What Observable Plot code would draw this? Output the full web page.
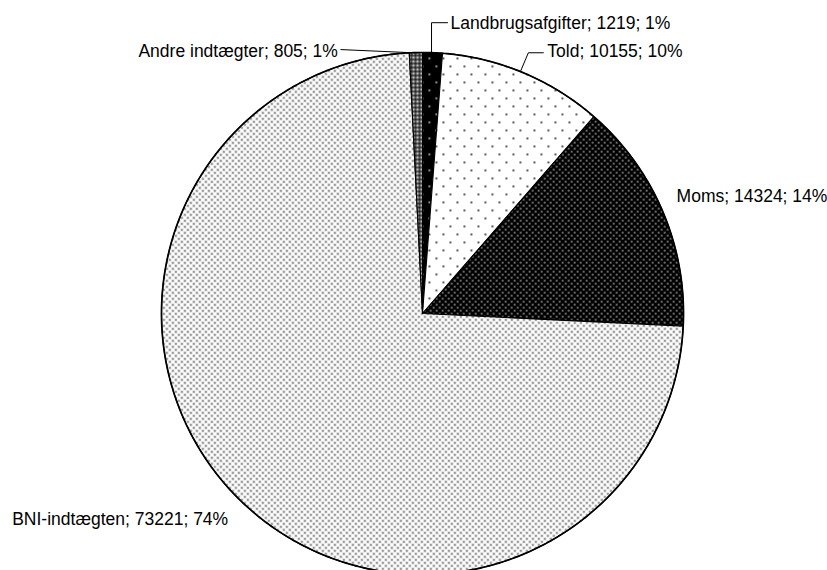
<!DOCTYPE html>
<html>
<head>
<meta charset="utf-8">
<script src="https://cdn.jsdelivr.net/npm/d3@7"></script>
<script src="https://cdn.jsdelivr.net/npm/@observablehq/plot@0.6"></script>
<style>
  html, body { margin: 0; padding: 0; background: white; }
</style>
</head>
<body>
<div id="chart"></div>
<script>
// ---- data ----
const categories = ["Landbrugsafgifter", "Told", "Moms", "BNI-indtægten", "Andre indtægter"];
const values = [1219, 10155, 14324, 73221, 805];
const percentLabels = ["1%", "10%", "14%", "74%", "1%"];

// ---- styling / layout (not data) ----
const patternIds = ["pLand", "pTold", "pMoms", "pBni", "pAndre"];
const cx = 422, cy = 313, R = 261, W = 827, H = 570;
// pixel offsets from the slice's mid-arc point
const labelLayout = [
  {leader: [[-1, 1], [-1, -30], [15, -30]], text: [18, -29.5], anchor: "start"},
  {leader: [[-3, -1], [5, -20], [20, -20]], text: [24, -21], anchor: "start"},
  {leader: null, text: [14, -15], anchor: "start"},
  {leader: null, text: [-10, 21], anchor: "end"},
  {leader: [[-7, 0], [-75, -3]], text: [-78, -1.5], anchor: "end"}
];

const total = d3.sum(values);
const slices = [];
const mids = [];
let acc = 0;
values.forEach((v, i) => {
  const a0 = acc / total * 2 * Math.PI;
  acc += v;
  const a1 = acc / total * 2 * Math.PI;
  const pts = [{x: 0, y: 0}];
  const n = Math.max(2, Math.ceil((a1 - a0) / (Math.PI / 360)));
  for (let k = 0; k <= n; k++) {
    const a = a0 + (a1 - a0) * k / n;
    pts.push({x: Math.sin(a), y: Math.cos(a)});
  }
  pts.push({x: 0, y: 0});
  slices.push(pts);
  const am = (a0 + a1) / 2;
  mids.push({x: Math.sin(am), y: Math.cos(am)});
});

const leaders = [];
const texts = [];
categories.forEach((c, i) => {
  const L = labelLayout[i], m = mids[i];
  if (L.leader) {
    L.leader.forEach(([dx, dy]) => leaders.push({id: c, x: m.x + dx / R, y: m.y - dy / R}));
  }
  texts.push({
    x: m.x + L.text[0] / R, y: m.y - L.text[1] / R,
    label: `${c}; ${values[i]}; ${percentLabels[i]}`, anchor: L.anchor
  });
});

const marks = [];
slices.forEach((pts, i) => {
  marks.push(Plot.line(pts, {x: "x", y: "y", fill: `url(#${patternIds[i]})`, stroke: "black", strokeWidth: 1.1, strokeLinejoin: "round"}));
});
// outer outline
const outline = d3.range(0, 721).map(k => ({x: Math.sin(k / 720 * 2 * Math.PI), y: Math.cos(k / 720 * 2 * Math.PI)}));
marks.push(Plot.line(outline, {x: "x", y: "y", stroke: "black", strokeWidth: 1.7}));
marks.push(Plot.line(leaders, {x: "x", y: "y", z: "id", stroke: "black", strokeWidth: 1}));
marks.push(Plot.text(texts.filter(t => t.anchor === "start"), {x: "x", y: "y", text: "label", textAnchor: "start", fill: "black", fontSize: 17.5}));
marks.push(Plot.text(texts.filter(t => t.anchor === "end"), {x: "x", y: "y", text: "label", textAnchor: "end", fill: "black", fontSize: 17.5}));

const svg = Plot.plot({
  width: W, height: H,
  margin: 0,
  x: {domain: [-1, 1], range: [cx - R, cx + R], axis: null},
  y: {domain: [-1, 1], range: [cy + R, cy - R], axis: null},
  style: {fontFamily: "'Liberation Sans', Arial, sans-serif", fontSize: "17.5px", background: "white", color: "black", overflow: "hidden"},
  marks
});

svg.insertAdjacentHTML("afterbegin", `
<defs>
  <pattern id="pBni" width="6" height="6" patternUnits="userSpaceOnUse">
    <rect width="6" height="6" fill="white"/>
    <rect x="0.5" y="0.5" width="1.8" height="1.8" fill="#4a4a4a"/>
    <rect x="3.5" y="3.5" width="1.8" height="1.8" fill="#4a4a4a"/>
  </pattern>
  <pattern id="pTold" width="14" height="16" patternUnits="userSpaceOnUse">
    <rect width="14" height="16" fill="white"/>
    <rect x="1" y="1" width="1.8" height="1.8" fill="#333"/>
    <rect x="8" y="9" width="1.8" height="1.8" fill="#333"/>
  </pattern>
  <pattern id="pMoms" width="6" height="6" patternUnits="userSpaceOnUse">
    <rect width="6" height="6" fill="black"/>
    <rect x="0.5" y="0.5" width="1.5" height="1.5" fill="#bbb"/>
    <rect x="3.5" y="3.5" width="1.5" height="1.5" fill="#bbb"/>
  </pattern>
  <pattern id="pLand" width="14" height="16" patternUnits="userSpaceOnUse">
    <rect width="14" height="16" fill="black"/>
    <rect x="1" y="1" width="1.6" height="1.6" fill="#ddd"/>
    <rect x="8" y="9" width="1.6" height="1.6" fill="#ddd"/>
  </pattern>
  <pattern id="pAndre" width="4" height="4" patternUnits="userSpaceOnUse">
    <rect width="4" height="4" fill="#555"/>
    <rect x="0" y="0" width="2" height="2" fill="#bbb"/>
    <rect x="2" y="2" width="2" height="2" fill="#222"/>
  </pattern>
</defs>`);

document.getElementById("chart").appendChild(svg);
</script>
</body>
</html>
